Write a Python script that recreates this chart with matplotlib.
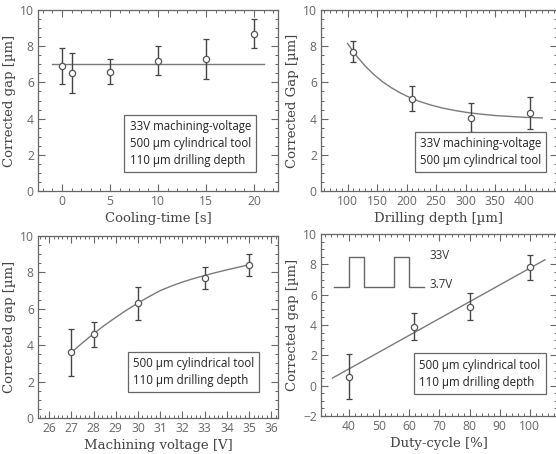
import numpy as np
import matplotlib.pyplot as plt
from matplotlib.ticker import MultipleLocator

# cooling time panel
cool_t = [0, 1, 5, 10, 15, 20]
cool_gap = [6.9, 6.5, 6.6, 7.2, 7.3, 8.7]
cool_err = [1.0, 1.1, 0.7, 0.8, 1.1, 0.8]
cool_fit_x = [-1, 21]
cool_fit_y = [7.0, 7.0]

# drilling depth panel
depth = [110, 210, 310, 410]
depth_gap = [7.7, 5.1, 4.05, 4.3]
depth_err = [0.6, 0.68, 0.8, 0.87]
depth_fit_x = [100, 115, 130, 145, 160, 175, 190, 205, 220, 240, 260, 280,
               300, 325, 350, 375, 400, 430]
depth_fit_y = [8.15, 7.47, 6.90, 6.42, 6.02, 5.69, 5.41, 5.17, 4.97, 4.76,
               4.59, 4.46, 4.35, 4.25, 4.17, 4.12, 4.07, 4.04]

# machining voltage panel
volt = [27, 28, 30, 33, 35]
volt_gap = [3.6, 4.6, 6.3, 7.7, 8.4]
volt_err = [1.3, 0.7, 0.9, 0.6, 0.6]
volt_fit_x = [27, 27.5, 28, 28.5, 29, 29.5, 30, 30.5, 31, 31.5, 32, 32.5,
              33, 33.5, 34, 34.5, 35]
volt_fit_y = [3.6, 4.13, 4.63, 5.10, 5.53, 5.94, 6.32, 6.67, 7.0, 7.25,
              7.47, 7.66, 7.83, 7.99, 8.14, 8.28, 8.42]

# duty cycle panel
duty = [40, 61.5, 80, 100]
duty_gap = [0.6, 3.9, 5.2, 7.8]
duty_err = [1.5, 0.9, 0.9, 0.8]
duty_fit_x = [34.5, 105]
duty_fit_y = [0.5, 8.3]
wave_x = [35, 40, 40, 45, 45, 55, 55, 60, 60, 65]
wave_y = [6.5, 6.5, 8.5, 8.5, 6.5, 6.5, 8.5, 8.5, 6.5, 6.5]

TXT = '#666666'
AX = '#666666'
SERIF = 'DejaVu Serif'
SANS = 'Open Sans'

plt.rcParams['font.family'] = SANS
plt.rcParams['font.size'] = 9

W, H = 556, 454
fig = plt.figure(figsize=(W / 100, H / 100), dpi=100)


def make_ax(l, r, t, b):
    return fig.add_axes([l / W, 1 - b / H, (r - l) / W, (b - t) / H])


def style(ax, xlim, ylim, xticks, xmin, xlabel, ylabel):
    ax.set_xlim(*xlim)
    ax.set_ylim(*ylim)
    ax.set_xticks(xticks)
    ax.xaxis.set_minor_locator(MultipleLocator(xmin))
    ax.yaxis.set_major_locator(MultipleLocator(2))
    ax.yaxis.set_minor_locator(MultipleLocator(0.5))
    ax.tick_params(which='both', direction='in', top=True, right=True,
                   colors=AX, labelcolor=TXT, labelsize=8.7, pad=3)
    ax.tick_params(which='major', length=5, width=0.8)
    ax.tick_params(which='minor', length=2.5, width=0.7)
    for s in ax.spines.values():
        s.set_color(AX)
        s.set_linewidth(0.9)
    ax.set_xlabel(xlabel, family=SERIF, fontsize=9.5, color='#444444', labelpad=3)
    ax.set_ylabel(ylabel, family=SERIF, fontsize=9.5, color='#444444', labelpad=3)


def data(ax, x, y, e, fx, fy):
    ax.plot(fx, fy, color='#7a7a7a', lw=1.0, zorder=2)
    ax.errorbar(x, y, yerr=e, fmt='o', ms=4.5, mfc='white', mec='#555555',
                mew=0.9, ecolor='#444444', elinewidth=1.0, capsize=2.5,
                capthick=1.0, zorder=3)


def box(ax, x, y, text):
    ax.text(x, y, text, transform=ax.transAxes, ha='right', va='bottom',
            fontsize=8.3, color='#222222', linespacing=1.4,
            multialignment='left',
            bbox=dict(boxstyle='square,pad=0.45', fc='white', ec=AX, lw=0.9))


ax1 = make_ax(38, 278, 10, 191)
data(ax1, cool_t, cool_gap, cool_err, cool_fit_x, cool_fit_y)
style(ax1, (-2.5, 22.5), (0, 10), [0, 5, 10, 15, 20], 1,
      'Cooling-time [s]', 'Corrected gap [µm]')
box(ax1, 0.887, 0.134,
    '33V machining-voltage\n500 µm cylindrical tool\n110 µm drilling depth')

ax2 = make_ax(321, 557, 10, 191)
data(ax2, depth, depth_gap, depth_err, depth_fit_x, depth_fit_y)
style(ax2, (55, 455), (0, 10), [100, 150, 200, 250, 300, 350, 400], 10,
      'Drilling depth [µm]', 'Corrected Gap [µm]')
box(ax2, 0.933, 0.134, '33V machining-voltage\n500 µm cylindrical tool')

ax3 = make_ax(38, 278, 236, 418)
data(ax3, volt, volt_gap, volt_err, volt_fit_x, volt_fit_y)
style(ax3, (25.5, 36.3), (0, 10), list(range(26, 37)), 0.2,
      'Machining voltage [V]', 'Corrected gap [µm]')
box(ax3, 0.900, 0.171, '500 µm cylindrical tool\n110 µm drilling depth')

ax4 = make_ax(321, 557, 234, 416)
data(ax4, duty, duty_gap, duty_err, duty_fit_x, duty_fit_y)
ax4.plot(wave_x, wave_y, color='#666666', lw=1.0)
ax4.text(66.6, 8.6, '33V', va='center', fontsize=8.3, color='#333333')
ax4.text(66.6, 6.65, '3.7V', va='center', fontsize=8.3, color='#333333')
style(ax4, (30.7, 109), (-2, 10), [40, 50, 60, 70, 80, 90, 100], 2,
      'Duty-cycle [%]', 'Corrected gap [µm]')
box(ax4, 0.931, 0.151, '500 µm cylindrical tool\n110 µm drilling depth')

fig.savefig('out.png', dpi=100)
